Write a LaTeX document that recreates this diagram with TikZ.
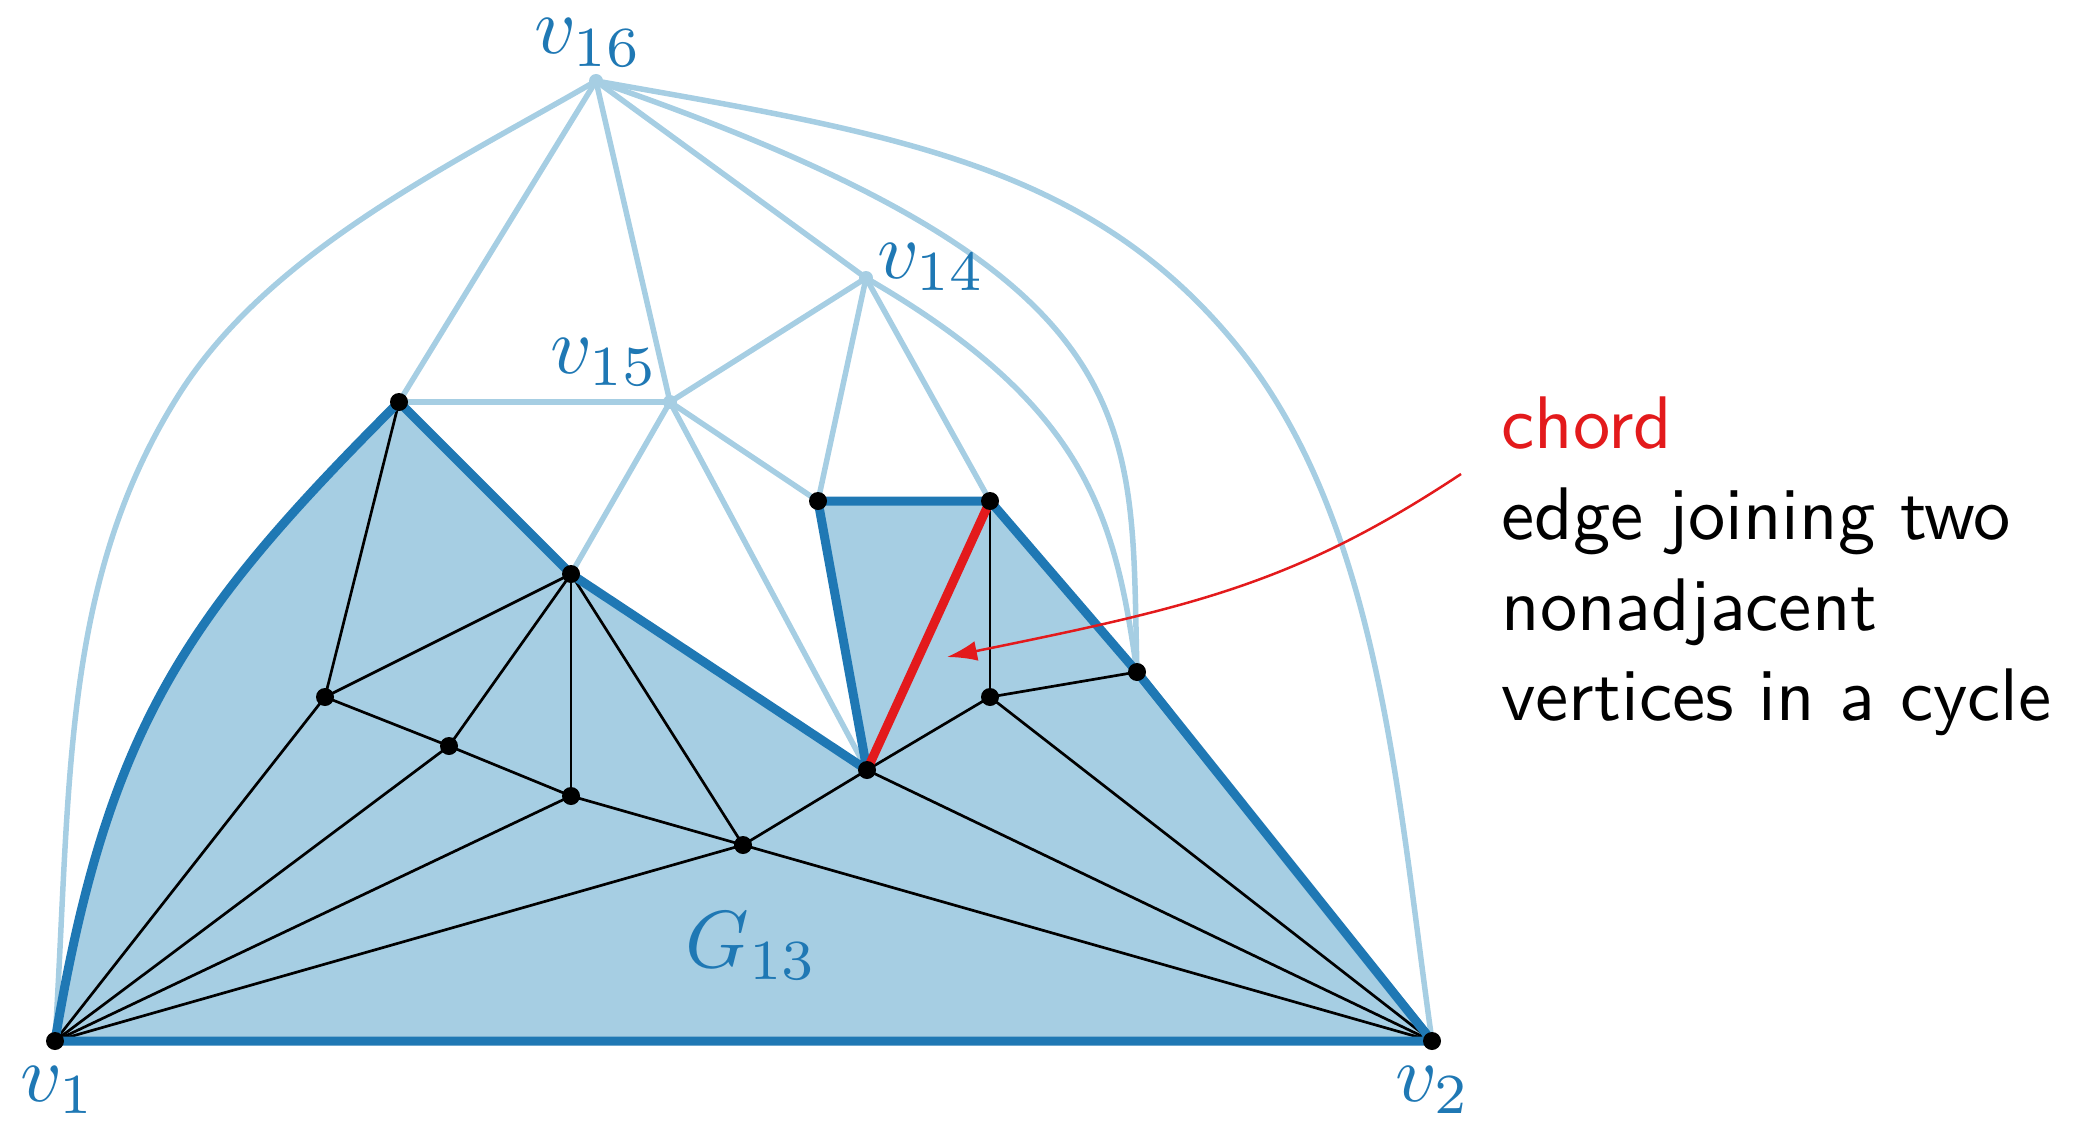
\documentclass[tikz,border=0pt]{standalone}
\usetikzlibrary{arrows.meta}
\definecolor{lb}{HTML}{A6CEE3}
\definecolor{db}{HTML}{1F78B4}
\definecolor{rd}{HTML}{E31A1C}
\begin{document}
\begin{tikzpicture}[x=1pt,y=-1pt,
  lightedge/.style={lb,line width=5.5pt},
  inneredge/.style={black,line width=2.7pt},
  bound/.style={db,line width=9pt,line join=round},
  chordedge/.style={rd,line width=9pt,line cap=round},
  lbl/.style={db,inner sep=0pt,anchor=base west,scale=8.1},
  txt/.style={font=\sffamily,inner sep=0pt,anchor=base west,scale=7.45}]
\useasboundingbox (0,0) rectangle (2085,1121);
\coordinate (v1) at (55,1041);
\coordinate (v2) at (1432,1041);
\coordinate (v16) at (596,81);
\coordinate (v14) at (866,278);
\coordinate (v15) at (670,402);
\coordinate (a) at (399,402);
\coordinate (b) at (571,574);
\coordinate (c) at (325,697);
\coordinate (d) at (449,746);
\coordinate (e) at (571,796);
\coordinate (f) at (743,845);
\coordinate (g) at (867,770);
\coordinate (h) at (818,501);
\coordinate (i) at (990,501);
\coordinate (j) at (990,697);
\coordinate (k) at (1137,672);
\coordinate (ml) at (178,396);
\coordinate (mr) at (1233,341);
% filled region
\fill[lb] (v1) .. controls (108,725) and (187,614) .. (a) -- (b) -- (g) -- (h) -- (i) -- (k) -- (v2) -- cycle;
% light edges
\draw[lightedge] (v1) .. controls (71,782) and (61,582) .. (ml) .. controls (268,252) and (449,166) .. (v16);
\draw[lightedge] (v16) .. controls (891,133) and (1086,164) .. (mr) .. controls (1380,518) and (1397,793) .. (v2);
\draw[lightedge] (v16) .. controls (1160,275) and (1130,420) .. (k);
\draw[lightedge] (v14) .. controls (1091,408) and (1115,520) .. (k);
\draw[lightedge] (v16) -- (a);
\draw[lightedge] (v16) -- (v15);
\draw[lightedge] (v16) -- (v14);
\draw[lightedge] (a) -- (v15);
\draw[lightedge] (v15) -- (v14);
\draw[lightedge] (v15) -- (b);
\draw[lightedge] (v15) -- (g);
\draw[lightedge] (v15) -- (h);
\draw[lightedge] (v14) -- (h);
\draw[lightedge] (v14) -- (i);
% inner black edges
\draw[inneredge] (a) -- (c);
\draw[inneredge] (c) -- (v1);
\draw[inneredge] (c) -- (b);
\draw[inneredge] (c) -- (d);
\draw[inneredge] (d) -- (b);
\draw[inneredge] (d) -- (v1);
\draw[inneredge] (d) -- (e);
\draw[inneredge] (e) -- (b);
\draw[inneredge] (e) -- (v1);
\draw[inneredge] (e) -- (f);
\draw[inneredge] (b) -- (f);
\draw[inneredge] (f) -- (v1);
\draw[inneredge] (f) -- (g);
\draw[inneredge] (f) -- (v2);
\draw[inneredge] (g) -- (j);
\draw[inneredge] (g) -- (v2);
\draw[inneredge] (j) -- (i);
\draw[inneredge] (j) -- (k);
\draw[inneredge] (j) -- (v2);
% boundary cycle
\draw[bound] (v1) .. controls (108,725) and (187,614) .. (a) -- (b) -- (g) -- (h) -- (i) -- (k) -- (v2) -- cycle;
% chord
\draw[chordedge] (i) -- (g);
% vertices
\foreach \p in {v1,v2,a,b,c,d,e,f,g,h,i,j,k} \fill (\p) circle[radius=9pt];
\foreach \p in {v14,v15,v16} \fill[lb] (\p) circle[radius=7pt];
% labels
\node[lbl] (l16) at (533,54) {$v_{16}$};
\node[lbl] (l14) at (876,278) {$v_{14}$};
\node[lbl] (l15) at (549,373) {$v_{15}$};
\node[lbl] (l1) at (19,1101) {$v_1$};
\node[lbl] (l2) at (1394,1101) {$v_2$};
\node[lbl] (lg) at (684,967) {$G_{13}$};
% text
\node[txt,rd] (t0) at (1500,448) {chord};
\node[txt] (t1) at (1500,539) {edge joining two};
\node[txt] (t2) at (1500,630) {nonadjacent};
\node[txt] (t3) at (1500,720) {vertices in a cycle};
% arrow
\coordinate (as) at (1461,474);
\coordinate (at) at (947,657);
\draw[rd,line width=2.5pt,-{Latex[length=30pt,width=20pt]}] (as) .. controls (1295,584) and (1192,607) .. (at);
\end{tikzpicture}
\end{document}
